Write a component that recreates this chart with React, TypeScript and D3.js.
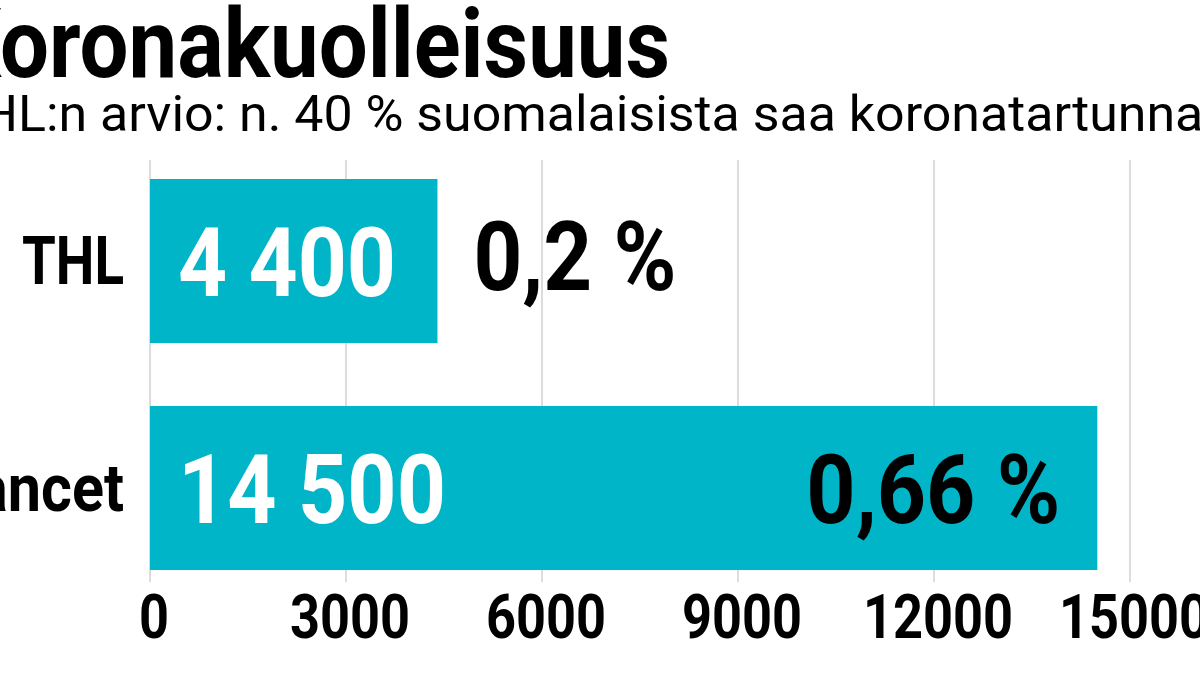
import React from "react";
import * as d3 from "d3";

const categories = ["THL", "Lancet"];
const deaths = [4400, 14500];
const deathLabels = ["4 400", "14 500"];
const rateLabels = ["0,2 %", "0,66 %"];
const tickValues = [0, 3000, 6000, 9000, 12000, 15000];
const title = "Koronakuolleisuus";
const subtitle = "THL:n arvio: n. 40 % suomalaisista saa koronatartunnan";

const W = 1200;
const H = 675;
const FONT = "Roboto, 'Noto Sans', sans-serif";
const BAR = "#00b5c8";
const GRID = "#d4d4d4";

export default function App() {
  const x = d3.scaleLinear().domain([0, 15000]).range([150, 1130]);
  const y = d3
    .scaleBand<string>()
    .domain(categories)
    .range([147.5, 601.5])
    .paddingInner(0.2775)
    .paddingOuter(0.13875);
  const bw = y.bandwidth();

  const valueWidth = (s: string) => s.length * 50 - 32;
  const rateWidth = (s: string) => s.length * 51 - 52;
  const catWidth = (s: string) => (s.length > 3 ? s.length * 30 : s.length * 32 + 6);

  return (
    <svg
      width={W}
      height={H}
      viewBox={`0 0 ${W} ${H}`}
      style={{ position: "absolute", left: 0, top: 0, display: "block", background: "#fff" }}
      fontFamily={FONT}
    >
      <rect x={0} y={0} width={W} height={H} fill="#fff" />
      {/* title */}
      <text x={-54} y={77} fontSize={96} fontWeight={700} fill="#000" textLength={724} lengthAdjust="spacingAndGlyphs">
        {title}
      </text>
      <text x={-50} y={131} fontSize={50} fontWeight={400} fill="#000" textLength={1282} lengthAdjust="spacingAndGlyphs">
        {subtitle}
      </text>

      {/* grid */}
      {tickValues.map((t) => (
        <line key={t} x1={x(t)} x2={x(t)} y1={160} y2={582} stroke={GRID} strokeWidth={1.6} />
      ))}

      {/* bars */}
      {categories.map((c, i) => {
        const y0 = y(c)!;
        const cy = y0 + bw / 2;
        const xEnd = x(deaths[i]);
        const rw = rateWidth(rateLabels[i]);
        const inside = xEnd + 38 + rw > x(15000);
        return (
          <g key={c}>
            <rect x={x(0)} y={y0} width={xEnd - x(0)} height={bw} fill={BAR} />
            <text
              x={124}
              y={cy + 23}
              fontSize={66}
              fontWeight={700}
              textAnchor="end"
              fill="#000"
              textLength={catWidth(c)}
              lengthAdjust="spacingAndGlyphs"
            >
              {c}
            </text>
            <text
              x={x(0) + 28}
              y={cy + 35}
              fontSize={96}
              fontWeight={700}
              fill="#fff"
              textLength={valueWidth(deathLabels[i])}
              lengthAdjust="spacingAndGlyphs"
            >
              {deathLabels[i]}
            </text>
            <text
              x={inside ? xEnd - 37 : xEnd + 36}
              y={cy + (inside ? 35 : 29)}
              fontSize={96}
              fontWeight={700}
              fill="#000"
              textAnchor={inside ? "end" : "start"}
              textLength={rw}
              lengthAdjust="spacingAndGlyphs"
            >
              {rateLabels[i]}
            </text>
          </g>
        );
      })}

      {/* axis labels */}
      {tickValues.map((t) => {
        const s = String(t);
        return (
          <text
            key={t}
            x={x(t) + 4}
            y={638}
            fontSize={62}
            fontWeight={700}
            fill="#000"
            textAnchor="middle"
            textLength={s.length * 30}
            lengthAdjust="spacingAndGlyphs"
          >
            {s}
          </text>
        );
      })}
    </svg>
  );
}
